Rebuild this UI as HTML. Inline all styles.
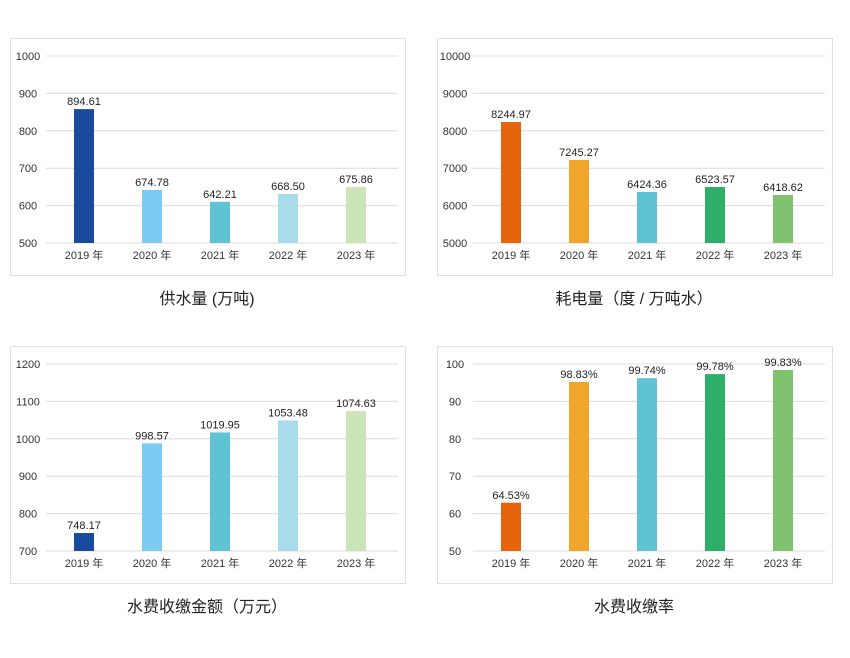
<!DOCTYPE html>
<html><head><meta charset="utf-8">
<style>
body{margin:0;background:#fff;width:850px;height:653px;overflow:hidden;font-family:"Liberation Sans","Noto Sans CJK SC",sans-serif;}
svg text{font-family:"Liberation Sans","Noto Sans CJK SC",sans-serif;}
</style></head>
<body>
<svg id="s" width="850" height="653"></svg>
<script>
const categories=["2019 年","2020 年","2021 年","2022 年","2023 年"];
const waterValues=[858,642,610,631,650];
const waterLabels=["894.61","674.78","642.21","668.50","675.86"];
const powerValues=[8235,7219,6364,6497,6283];
const powerLabels=["8244.97","7245.27","6424.36","6523.57","6418.62"];
const feeValues=[748,988,1017,1049,1074];
const feeLabels=["748.17","998.57","1019.95","1053.48","1074.63"];
const rateValues=[62.9,95.2,96.2,97.3,98.4];
const rateLabels=["64.53%","98.83%","99.74%","99.78%","99.83%"];
const ticks1=[500,600,700,800,900,1000];
const ticks2=[5000,6000,7000,8000,9000,10000];
const ticks3=[700,800,900,1000,1100,1200];
const ticks4=[50,60,70,80,90,100];
const blues=["#1a4a9e","#7dcbf2","#5fc3d4","#a8dbec","#cce5b8"];
const warm=["#e8640c","#efa62a","#5fc3d4","#2fae6a","#7fc36f"];
const NS="http://www.w3.org/2000/svg";
const svg=document.getElementById('s');
function mk(tag,attrs,parent){const e=document.createElementNS(NS,tag);for(const k in attrs)e.setAttribute(k,attrs[k]);(parent||svg).appendChild(e);return e;}
function chart(name,px,py,ticks,vals,labels,colors,title){
  const g=mk('g',{});
  
  
  const panel=mk('rect',{x:px+0.5,y:py+0.5,width:395,height:237,fill:'#fff',stroke:'#e0e0e0'},g);
  
  
  const top=py+18,bot=py+205,x0=px+36,x1=px+388;
  const lo=ticks[0],hi=ticks[ticks.length-1];
  const y=v=>bot-(v-lo)/(hi-lo)*(bot-top);
  const xc=i=>px+74+i*68;
  ticks.forEach(t=>{
    const l=mk('line',{x1:x0,x2:x1,y1:y(t),y2:y(t),stroke:'#dcdcdc','stroke-width':1},g);
    
    
    const tx=mk('text',{x:px+18,y:y(t)+4,'font-size':11,fill:'#333','text-anchor':'middle'},g);
    tx.textContent=t;
    
    
  });
  vals.forEach((v,i)=>{
    const b=mk('rect',{x:xc(i)-10,y:y(v),width:20,height:bot-y(v),fill:colors[i]},g);
    
    
    const t=mk('text',{x:xc(i),y:y(v)-4,'font-size':11,fill:'#222','text-anchor':'middle'},g);
    t.textContent=labels[i];
    
    
    const c=mk('text',{x:xc(i),y:bot+16,'font-size':11,fill:'#333','text-anchor':'middle'},g);
    c.textContent=categories[i];
    
    
  });
  const tt=mk('text',{x:px+197,y:py+266,'font-size':16,fill:'#222','text-anchor':'middle'},g);
  tt.textContent=title;
  
  
}
chart('water-supply-chart',10,38,ticks1,waterValues,waterLabels,blues,'供水量 (万吨)');
chart('power-consumption-chart',437,38,ticks2,powerValues,powerLabels,warm,'耗电量（度 / 万吨水）');
chart('water-fee-chart',10,346,ticks3,feeValues,feeLabels,blues,'水费收缴金额（万元）');
chart('collection-rate-chart',437,346,ticks4,rateValues,rateLabels,warm,'水费收缴率');
</script>
</body></html>
